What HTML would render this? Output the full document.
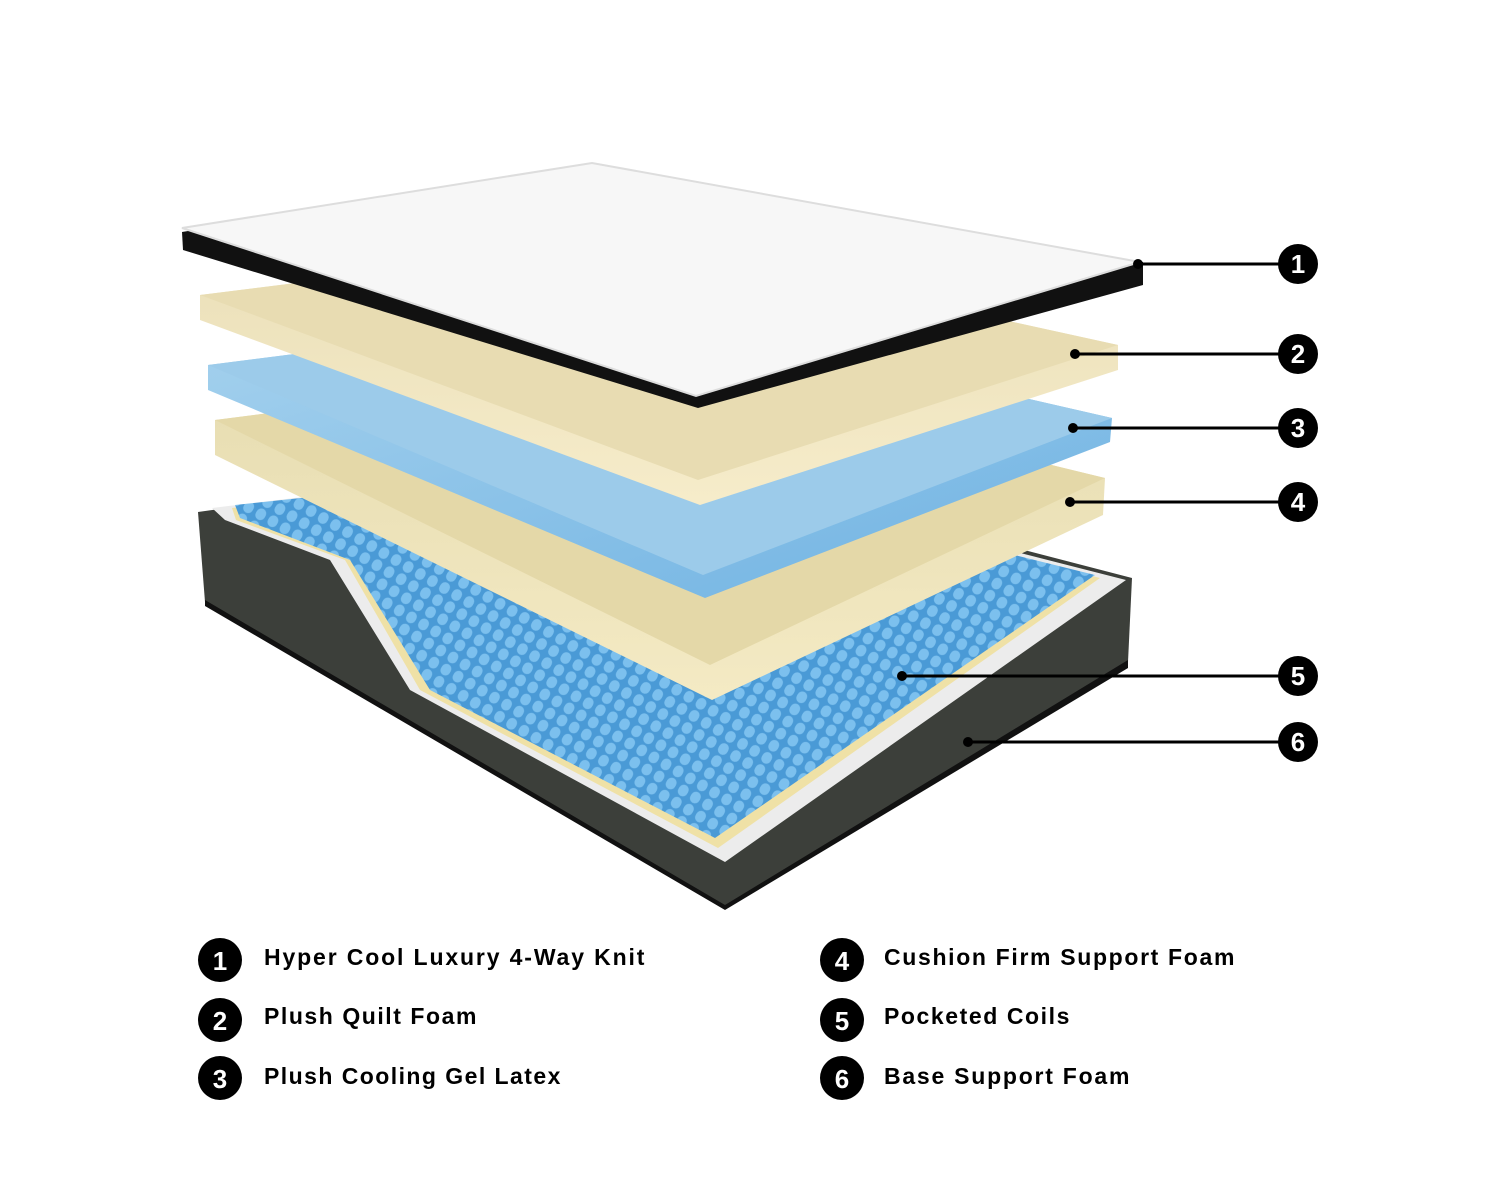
<!DOCTYPE html>
<html><head><meta charset="utf-8"><style>
html,body{margin:0;padding:0;background:#fff;}
svg{display:block}
text{font-family:"Liberation Sans",sans-serif;font-weight:bold;}
</style></head><body>
<svg width="1500" height="1200" viewBox="0 0 1500 1200" xmlns="http://www.w3.org/2000/svg">
<defs>
<pattern id="coil" width="14" height="14" patternUnits="userSpaceOnUse" patternTransform="rotate(30)">
<rect width="14" height="14" fill="#4a9ad6"/>
<rect x="2" y="1" width="10" height="12" rx="5" fill="#7cc0ee"/>
</pattern>
<linearGradient id="g4" x1="0" y1="0" x2="0" y2="1"><stop offset="0" stop-color="#e6dcb0"/><stop offset="1" stop-color="#f4eac4"/></linearGradient>
<linearGradient id="g3" x1="0" y1="0" x2="1" y2="1"><stop offset="0" stop-color="#a6d2ee"/><stop offset="1" stop-color="#6fb2e2"/></linearGradient>
<linearGradient id="g2" x1="0" y1="0" x2="0" y2="1"><stop offset="0" stop-color="#eadfb8"/><stop offset="1" stop-color="#f6ecca"/></linearGradient>
</defs>
<!-- base -->
<polygon points="198,512 640,450 1132,578 1128,662 725,907 205,602" fill="#3c3f3a"/>
<polygon points="205,600 725,905 1128,660 1128,668 725,910 205,606" fill="#111"/>
<polygon points="212,508 640,456 1126,580 725,862 410,690 330,560 225,520" fill="#ececec"/>
<polygon points="232,508 640,460 1100,578 718,848 420,690 345,560 236,520" fill="#efe1a6"/>
<polygon points="235,505 640,462 1095,575 715,838 430,690 350,560 240,518" fill="url(#coil)"/>
<!-- layer 4 -->
<polygon points="215,420 640,365 1105,478 1103,515 712,700 215,455" fill="url(#g4)"/>
<polygon points="215,420 640,365 1105,478 710,665" fill="#e4d8a8"/>
<!-- layer 3 -->
<polygon points="208,365 640,310 1112,418 1110,442 705,598 208,390" fill="url(#g3)"/>
<polygon points="208,365 640,310 1112,418 703,575" fill="#9ccbea"/>
<!-- layer 2 -->
<polygon points="200,295 640,240 1118,345 1118,370 700,505 200,320" fill="url(#g2)"/>
<polygon points="200,295 640,240 1118,345 698,480" fill="#e8dcb2"/>
<!-- layer 1 -->
<polygon points="182,232 592,165 1143,262 1143,285 698,408 183,250" fill="#111"/>
<polygon points="182,228 592,163 1140,262 696,396" fill="#f7f7f7"/>
<polygon points="182,228 592,163 1140,262 696,396" fill="none" stroke="#ddd" stroke-width="2"/>
<!-- callouts -->
<g stroke="#000" stroke-width="3">
<line x1="1138" y1="264" x2="1290" y2="264"/>
<line x1="1075" y1="354" x2="1290" y2="354"/>
<line x1="1073" y1="428" x2="1290" y2="428"/>
<line x1="1070" y1="502" x2="1290" y2="502"/>
<line x1="902" y1="676" x2="1290" y2="676"/>
<line x1="968" y1="742" x2="1290" y2="742"/>
</g>
<g fill="#000">
<circle cx="1138" cy="264" r="5"/><circle cx="1075" cy="354" r="5"/><circle cx="1073" cy="428" r="5"/>
<circle cx="1070" cy="502" r="5"/><circle cx="902" cy="676" r="5"/><circle cx="968" cy="742" r="5"/>
<circle cx="1298" cy="264" r="20"/><circle cx="1298" cy="354" r="20"/><circle cx="1298" cy="428" r="20"/>
<circle cx="1298" cy="502" r="20"/><circle cx="1298" cy="676" r="20"/><circle cx="1298" cy="742" r="20"/>
<circle cx="220" cy="960" r="22"/><circle cx="220" cy="1020" r="22"/><circle cx="220" cy="1078" r="22"/>
<circle cx="842" cy="960" r="22"/><circle cx="842" cy="1020" r="22"/><circle cx="842" cy="1078" r="22"/>
</g>
<g fill="#fff" font-size="26" text-anchor="middle">
<text x="1298" y="273">1</text><text x="1298" y="363">2</text><text x="1298" y="437">3</text>
<text x="1298" y="511">4</text><text x="1298" y="685">5</text><text x="1298" y="751">6</text>
<text x="220" y="970">1</text><text x="220" y="1030">2</text><text x="220" y="1088">3</text>
<text x="842" y="970">4</text><text x="842" y="1030">5</text><text x="842" y="1088">6</text>
</g>
<g fill="#000" font-size="23" letter-spacing="0.6">
<text x="264" y="965" textLength="381">Hyper Cool Luxury 4-Way Knit</text>
<text x="264" y="1024" textLength="213">Plush Quilt Foam</text>
<text x="264" y="1084" textLength="297">Plush Cooling Gel Latex</text>
<text x="884" y="965" textLength="351">Cushion Firm Support Foam</text>
<text x="884" y="1024" textLength="186">Pocketed Coils</text>
<text x="884" y="1084" textLength="246">Base Support Foam</text>
</g>
</svg>
</body></html>
